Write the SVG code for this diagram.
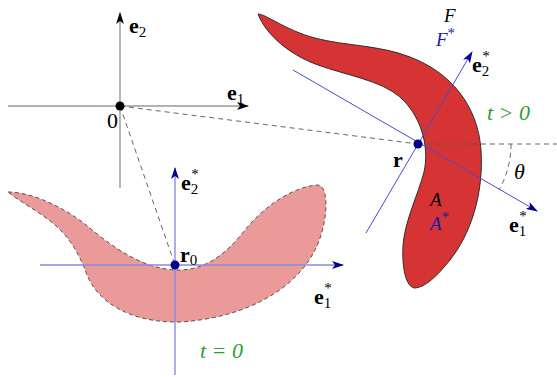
<svg xmlns="http://www.w3.org/2000/svg" width="557" height="377" viewBox="0 0 557 377">
<defs>
<style>
.ax{stroke:#999;stroke-width:1.4;fill:none}
.bl{stroke:#4a4ad0;stroke-width:1;fill:none}
.bl0{stroke:#8a8ae0;stroke-width:1.4;fill:none}
.dash{stroke:#555;stroke-width:0.9;stroke-dasharray:5,4;fill:none}
.t{font-family:"Liberation Serif","DejaVu Serif",serif;font-size:22px;fill:#000}
.s{font-size:19px}
.b{font-weight:bold}
.i{font-style:italic}
.g{fill:#2aa02a}
.n{fill:#1a1aa8}
.sub{font-size:15px}
</style>
<marker id="ak" viewBox="0 0 12 8" refX="11" refY="4" markerWidth="12" markerHeight="8" markerUnits="userSpaceOnUse" orient="auto"><path d="M0,0 L12,4 L0,8 L3,4 Z" fill="#000"/></marker>
<marker id="ab" viewBox="0 0 12 8" refX="11" refY="4" markerWidth="12" markerHeight="8" markerUnits="userSpaceOnUse" orient="auto"><path d="M0,0 L12,4 L0,8 L3,4 Z" fill="#00008b"/></marker>
</defs>

<g id="shape-initial">
<path d="M8,192 C30,192 60,205 85,224 C110,245 140,268 175,270 C205,271 225,255 245,230 C265,205 295,186 318,185 C330,186 328,225 315,250 C295,290 245,318 180,322 C130,323 98,302 87,275 C80,255 70,238 55,225 C40,212 20,202 8,192 Z" fill="#eb9a9a" stroke="#444" stroke-width="0.9" stroke-dasharray="4,3"/>
</g>

<g id="shape-current">
<path d="M258,14 C266,14 285,30 315,38 C345,46 380,45 410,57 C450,72 478,105 481,150 C484,195 470,235 450,260 C437,276 425,288 414,288 C404,285 402,262 403,245 C405,220 418,195 424,172 C430,145 420,115 400,97 C380,80 345,75 318,65 C290,55 266,35 258,14 Z" fill="#d63434" stroke="#222" stroke-width="0.9"/>
</g>

<g id="connectors">
<line class="ax" x1="8" y1="106" x2="248" y2="106" marker-end="url(#ak)"/>
<line class="ax" x1="120" y1="188" x2="120" y2="13" marker-end="url(#ak)"/>
<line class="dash" x1="120" y1="106" x2="418" y2="144"/>
<line class="dash" x1="120" y1="106" x2="175" y2="265"/>
<line class="dash" x1="418" y1="144" x2="557" y2="144"/>
<path class="dash" d="M511,144 A93,93 0 0 1 499,190"/>
<line class="bl0" x1="40" y1="265" x2="343" y2="265" marker-end="url(#ab)"/>
<line class="bl0" x1="175" y1="375" x2="175" y2="168" marker-end="url(#ab)"/>
<line class="bl" x1="293" y1="70" x2="537" y2="211" marker-end="url(#ab)"/>
<line class="bl" x1="366" y1="233" x2="472" y2="52" marker-end="url(#ab)"/>
</g>

<g id="origin">
<circle cx="120" cy="106" r="4.5" fill="#000"/>
<text class="t" x="107" y="128">0</text>
<text class="t b" x="129" y="33">e<tspan class="sub" font-weight="normal" dy="4">2</tspan></text>
<text class="t b" x="227" y="100">e<tspan class="sub" font-weight="normal" dy="4">1</tspan></text>
</g>

<g id="r0">
<circle cx="175" cy="265" r="4.5" fill="#00008b"/>
<text class="t b" x="180" y="262">r<tspan class="sub" dy="3" font-weight="normal">0</tspan></text>
<text class="t b" x="181" y="190">e<tspan class="sub" font-weight="normal" dy="4">2</tspan><tspan class="sub" font-weight="normal" fill="#000" dx="-7" dy="-15">*</tspan></text>
<text class="t b" x="314" y="304">e<tspan class="sub" font-weight="normal" dy="4">1</tspan><tspan class="sub" font-weight="normal" fill="#000" dx="-7" dy="-15">*</tspan></text>
<text class="t i g" x="200" y="358">t = 0</text>
</g>

<g id="r">
<circle cx="418" cy="144" r="4.5" fill="#00008b"/>
<text class="t b" x="393" y="167">r</text>
<text class="t b" x="472" y="72">e<tspan class="sub" font-weight="normal" dy="4">2</tspan><tspan class="sub" font-weight="normal" fill="#000" dx="-7" dy="-15">*</tspan></text>
<text class="t b" x="509" y="232">e<tspan class="sub" font-weight="normal" dy="4">1</tspan><tspan class="sub" font-weight="normal" fill="#000" dx="-7" dy="-15">*</tspan></text>
<text class="t i" x="514" y="179">θ</text>
<text class="t i g" x="487" y="120" xml:space="preserve">t &gt; 0</text>
<text class="t s i" x="444" y="22">F</text>
<text class="t s i n" x="436" y="46">F<tspan class="sub" dy="-8" font-style="normal">*</tspan></text>
<text class="t s i" x="430" y="206">A</text>
<text class="t s i n" x="430" y="230">A<tspan class="sub" dy="-8" font-style="normal">*</tspan></text>
</g>
</svg>
